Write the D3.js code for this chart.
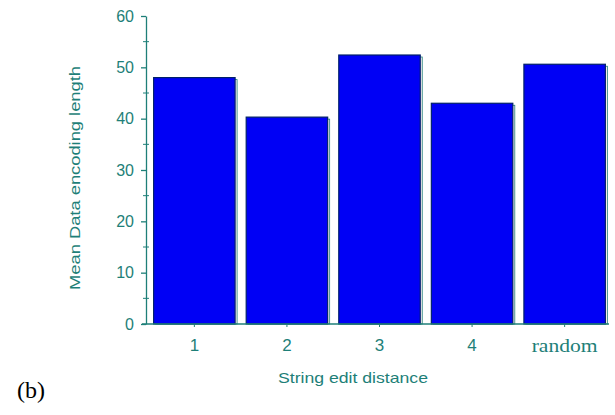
<!DOCTYPE html>
<html><head><meta charset="utf-8">
<script src="https://cdn.jsdelivr.net/npm/d3@7"></script>
<style>body{margin:0;background:#fff}</style>
</head><body>
<svg id="c" width="615" height="415"></svg>
<script>
const categories = ["1", "2", "3", "4", "random"];
const values = [48.0, 40.3, 52.4, 43.0, 50.6];
const yTicks = [0, 10, 20, 30, 40, 50, 60];
const yMinor = [5, 15, 25, 35, 45, 55];

const svg = d3.select("#c");
const teal = "#1e7f78";
const sans = "Liberation Sans, Arial, sans-serif";
const x = d3.scaleBand().domain(categories).range([149, 610]).paddingInner(0.12).paddingOuter(0.05);
const y = d3.scaleLinear().domain([0, 60]).range([324, 16]);

// bar shadows
svg.append("g").selectAll("rect").data(categories).join("rect")
  .attr("x", d => x(d) + 2).attr("y", (d, i) => y(values[i]) + 2)
  .attr("width", x.bandwidth()).attr("height", (d, i) => y(0) - y(values[i]) - 2)
  .attr("fill", "#fbeef0").attr("stroke", teal).attr("stroke-width", 0.8);
// bars
svg.append("g").selectAll("rect").data(categories).join("rect")
  .attr("x", d => x(d)).attr("y", (d, i) => y(values[i]))
  .attr("width", x.bandwidth()).attr("height", (d, i) => y(0) - y(values[i]))
  .attr("fill", "#0000f5").attr("stroke", "#00206a").attr("stroke-width", 1.2);

// y axis
const ya = svg.append("g").attr("transform", "translate(146,0)")
  .call(d3.axisLeft(y).tickValues(yTicks).tickSize(5).tickPadding(7).tickSizeOuter(0));
ya.select(".domain").attr("stroke", teal).attr("stroke-width", 1.3);
ya.selectAll(".tick line").attr("stroke", teal).attr("stroke-width", 1.3);
ya.selectAll(".tick text").attr("fill", teal).attr("font-family", sans).attr("font-size", 16);
svg.append("g").selectAll("line").data(yMinor).join("line")
  .attr("x1", 143).attr("x2", 149).attr("y1", d => y(d)).attr("y2", d => y(d))
  .attr("stroke", teal).attr("stroke-width", 1);

// x axis
svg.append("line").attr("x1", 142).attr("x2", 609).attr("y1", y(0)).attr("y2", y(0))
  .attr("stroke", teal).attr("stroke-width", 1.5);
const xa = svg.append("g").attr("transform", `translate(0,${y(0)})`)
  .call(d3.axisBottom(x).tickSize(3).tickPadding(12).tickSizeOuter(0));
xa.select(".domain").remove();
xa.selectAll(".tick line").attr("stroke", teal);
xa.selectAll(".tick text").attr("fill", teal).attr("font-family", sans).attr("font-size", 17);
xa.selectAll(".tick text").filter(d => d === "random")
  .attr("font-family", "Liberation Serif, Times New Roman, serif").attr("font-size", 18)
  .attr("textLength", 66).attr("lengthAdjust", "spacingAndGlyphs");

// titles
svg.append("text").attr("x", 353).attr("y", 383).attr("text-anchor", "middle")
  .attr("fill", teal).attr("font-family", sans).attr("font-size", 15)
  .attr("textLength", 150).attr("lengthAdjust", "spacingAndGlyphs")
  .text("String edit distance");
svg.append("text").attr("transform", "translate(80,178) rotate(-90)").attr("text-anchor", "middle")
  .attr("fill", teal).attr("font-family", sans).attr("font-size", 14)
  .attr("textLength", 224).attr("lengthAdjust", "spacingAndGlyphs")
  .text("Mean Data encoding length");
svg.append("text").attr("x", 17).attr("y", 398)
  .attr("fill", "#000").attr("font-family", "Liberation Serif, Times New Roman, serif").attr("font-size", 24)
  .text("(b)");
</script>
</body></html>
